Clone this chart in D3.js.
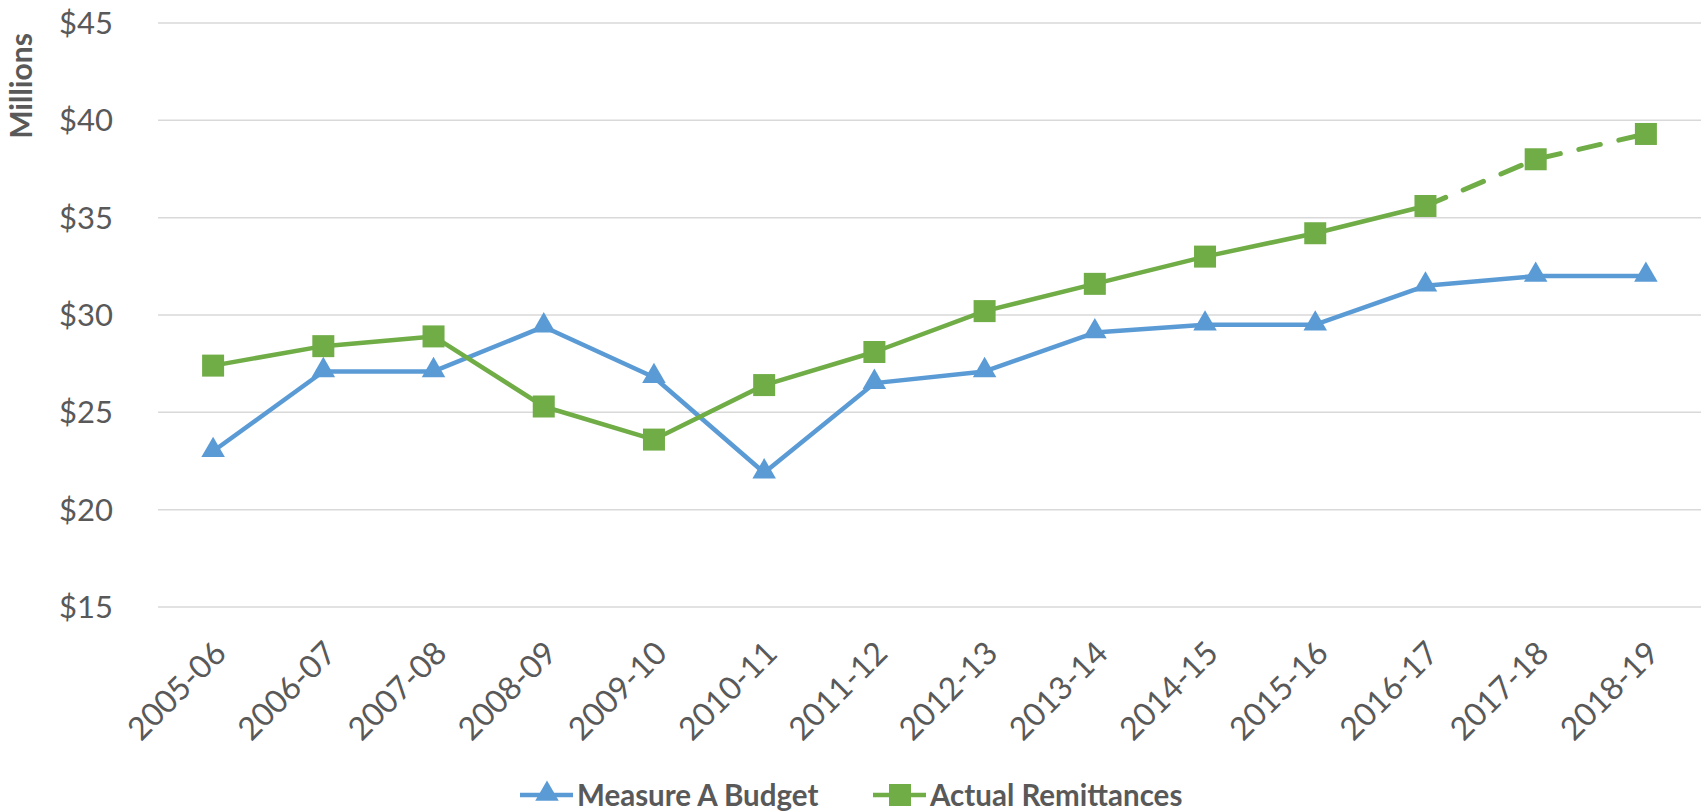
<!DOCTYPE html>
<html>
<head>
<meta charset="utf-8">
<script src="https://d3js.org/d3.v7.min.js"></script>
<style>
  body { margin: 0; background: #fff; }
  text { font-family: Lato, "Open Sans", sans-serif; fill: #595959; }
</style>
</head>
<body>
<div id="chart"></div>
<script>
// Data (millions of dollars)
var years = ["2005-06", "2006-07", "2007-08", "2008-09", "2009-10", "2010-11", "2011-12",
             "2012-13", "2013-14", "2014-15", "2015-16", "2016-17", "2017-18", "2018-19"];
var budget = [23.0, 27.1, 27.1, 29.4, 26.8, 21.9, 26.5, 27.1, 29.1, 29.5, 29.5, 31.5, 32.0, 32.0];
var remittances = [27.4, 28.4, 28.9, 25.3, 23.6, 26.4, 28.1, 30.2, 31.6, 33.0, 34.2, 35.6, 38.0, 39.3];
var yTicks = [15, 20, 25, 30, 35, 40, 45];
// index from which the remittances line is a projection (dashed)
var projectedFrom = 11;

var blue = "#5B9BD5", green = "#70AD47";

var W = 1705, H = 811;
var svg = d3.select("#chart")
  .append("svg")
    .attr("width", W)
    .attr("height", H);

var x = d3.scaleBand()
  .domain(years)
  .range([158, 1701]);

var y = d3.scaleLinear()
  .domain([15, 45])
  .range([607, 23]);

function cx(d) { return x(d) + x.bandwidth() / 2; }

// gridlines
svg.append("g")
  .selectAll("line")
  .data(yTicks)
  .enter()
  .append("line")
    .attr("x1", 158)
    .attr("x2", 1701)
    .attr("y1", function (d) { return y(d); })
    .attr("y2", function (d) { return y(d); })
    .attr("stroke", "#D9D9D9")
    .attr("stroke-width", 1.5);

// y axis labels
svg.append("g")
  .selectAll("text")
  .data(yTicks)
  .enter()
  .append("text")
    .attr("x", 113)
    .attr("y", function (d) { return y(d); })
    .attr("dy", "0.36em")
    .attr("text-anchor", "end")
    .style("font-size", "31px")
    .text(function (d) { return "$" + d; });

// y axis title
svg.append("text")
  .attr("transform", "translate(32,86) rotate(-90)")
  .attr("text-anchor", "middle")
  .style("font-size", "30px")
  .style("font-weight", "bold")
  .text("Millions");

// x axis labels
svg.append("g")
  .selectAll("text")
  .data(years)
  .enter()
  .append("text")
    .attr("transform", function (d) {
      return "translate(" + (cx(d) + 15) + ",655) rotate(-45)";
    })
    .attr("text-anchor", "end")
    .style("font-size", "32px")
    .text(function (d) { return d; });

var line = d3.line()
  .x(function (d) { return cx(d.year); })
  .y(function (d) { return y(d.value); });

function pts(values) {
  return values.map(function (v, i) { return { year: years[i], value: v }; });
}

var budgetPts = pts(budget);
var remitPts = pts(remittances);

// lines
svg.append("path")
  .datum(budgetPts)
  .attr("d", line)
  .attr("fill", "none")
  .attr("stroke", blue)
  .attr("stroke-width", 4.5)
  .attr("stroke-linejoin", "round");

svg.append("path")
  .datum(remitPts.slice(0, projectedFrom + 1))
  .attr("d", line)
  .attr("fill", "none")
  .attr("stroke", green)
  .attr("stroke-width", 4.5)
  .attr("stroke-linejoin", "round");

svg.append("path")
  .datum(remitPts.slice(projectedFrom))
  .attr("d", line)
  .attr("fill", "none")
  .attr("stroke", green)
  .attr("stroke-width", 5)
  .attr("stroke-linecap", "round")
  .attr("stroke-dasharray", "22 19");

// markers
var tri = d3.symbol().type(d3.symbolTriangle).size(240);

svg.append("g")
  .selectAll("path")
  .data(budgetPts)
  .enter()
  .append("path")
    .attr("d", tri)
    .attr("transform", function (d) {
      return "translate(" + cx(d.year) + "," + (y(d.value) - 1) + ")";
    })
    .attr("fill", blue);

svg.append("g")
  .selectAll("rect")
  .data(remitPts)
  .enter()
  .append("rect")
    .attr("x", function (d) { return cx(d.year) - 11; })
    .attr("y", function (d) { return y(d.value) - 11; })
    .attr("width", 22)
    .attr("height", 22)
    .attr("fill", green);

// legend
var legend = [
  { name: "Measure A Budget", color: blue, x: 520 },
  { name: "Actual Remittances", color: green, x: 873 }
];
var ly = 795;
var lg = svg.append("g");
legend.forEach(function (d, i) {
  lg.append("line")
    .attr("x1", d.x).attr("x2", d.x + 53)
    .attr("y1", ly).attr("y2", ly)
    .attr("stroke", d.color)
    .attr("stroke-width", 4.5);
  if (i === 0) {
    lg.append("path")
      .attr("d", tri)
      .attr("transform", "translate(" + (d.x + 27) + "," + (ly - 1) + ")")
      .attr("fill", d.color);
  } else {
    lg.append("rect")
      .attr("x", d.x + 27 - 11).attr("y", ly - 11)
      .attr("width", 22).attr("height", 22)
      .attr("fill", d.color);
  }
  lg.append("text")
    .attr("x", d.x + 57)
    .attr("y", ly)
    .attr("dy", "0.36em")
    .style("font-size", "29.5px")
    .style("font-weight", "bold")
    .text(d.name);
});
</script>
</body>
</html>
